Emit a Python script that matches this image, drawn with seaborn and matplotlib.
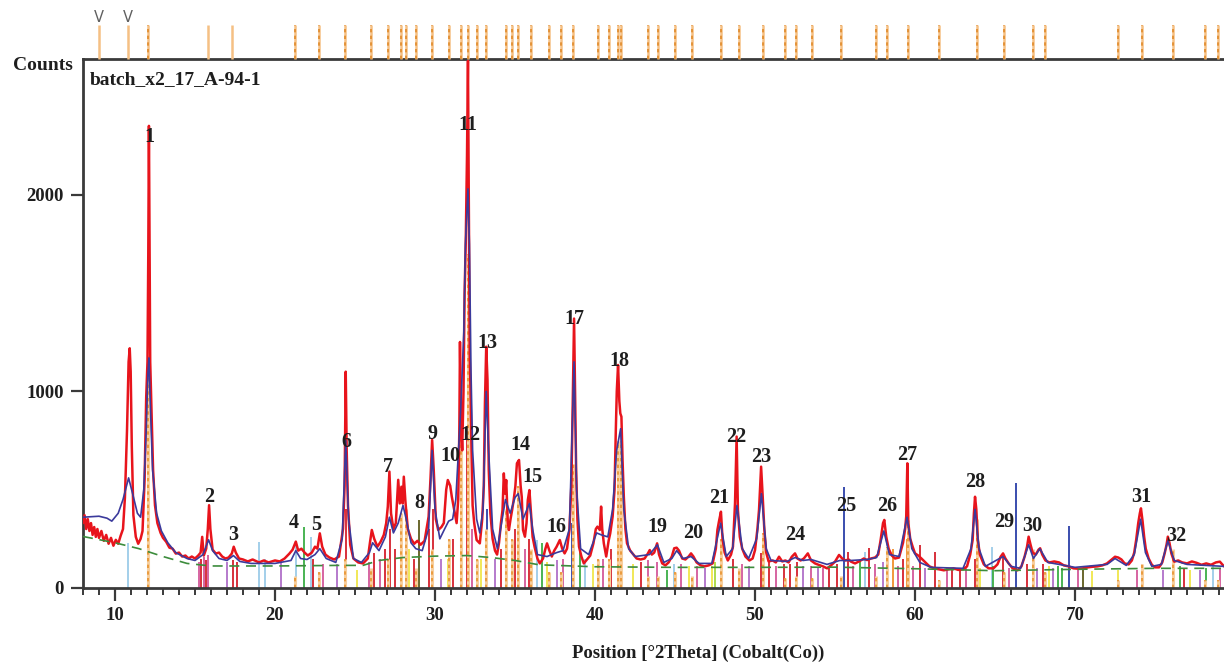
import matplotlib
matplotlib.use("Agg")
import matplotlib.pyplot as plt
from matplotlib.ticker import MultipleLocator
import seaborn as sns

sns.set_theme(style="white")
plt.rcParams["font.family"] = ["Liberation Serif", "DejaVu Serif"]
plt.rcParams["font.weight"] = "bold"

# ---------------- data ----------------
obs_2theta = [8.00, 8.10, 8.20, 8.30, 8.40, 8.50, 8.60, 8.70, 8.80, 8.90, 9.00, 9.15, 9.30, 9.45, 9.60, 9.75,
              9.90, 10.05, 10.20, 10.35, 10.50, 10.62, 10.75, 10.85, 10.92, 10.98, 11.05, 11.15, 11.30, 11.45,
              11.60, 11.72, 11.85, 11.95, 12.03, 12.08, 12.12, 12.16, 12.20, 12.28, 12.38, 12.50, 12.65, 12.85,
              13.00, 13.20, 13.40, 13.60, 13.80, 14.00, 14.20, 14.40, 14.60, 14.80, 15.00, 15.20, 15.35, 15.45,
              15.55, 15.70, 15.80, 15.88, 15.96, 16.10, 16.30, 16.50, 16.70, 16.90, 17.10, 17.30, 17.42, 17.55,
              17.75, 18.00, 18.30, 18.60, 19.00, 19.30, 19.60, 20.00, 20.30, 20.60, 20.90, 21.10, 21.30, 21.45,
              21.65, 21.85, 22.05, 22.30, 22.50, 22.65, 22.80, 22.95, 23.15, 23.40, 23.70, 24.00, 24.25, 24.35,
              24.42, 24.48, 24.56, 24.70, 24.90, 25.20, 25.50, 25.80, 25.95, 26.05, 26.20, 26.40, 26.60, 26.80,
              26.95, 27.05, 27.15, 27.25, 27.40, 27.55, 27.70, 27.80, 27.90, 27.98, 28.05, 28.15, 28.30, 28.50,
              28.70, 28.90, 29.10, 29.35, 29.60, 29.72, 29.82, 29.92, 30.05, 30.20, 30.40, 30.55, 30.70, 30.80,
              30.95, 31.05, 31.20, 31.35, 31.45, 31.52, 31.56, 31.62, 31.70, 31.78, 31.85, 31.92, 32.00, 32.06,
              32.12, 32.17, 32.22, 32.28, 32.35, 32.45, 32.60, 32.80, 32.95, 33.05, 33.12, 33.20, 33.28, 33.36,
              33.46, 33.60, 33.75, 33.88, 34.00, 34.12, 34.22, 34.30, 34.38, 34.45, 34.55, 34.62, 34.72, 34.82,
              34.92, 35.02, 35.12, 35.25, 35.35, 35.42, 35.50, 35.62, 35.72, 35.80, 35.90, 36.00, 36.10, 36.22,
              36.40, 36.55, 36.75, 36.90, 37.00, 37.15, 37.30, 37.45, 37.60, 37.80, 37.95, 38.10, 38.25, 38.40,
              38.52, 38.60, 38.69, 38.75, 38.82, 38.90, 39.00, 39.15, 39.30, 39.50, 39.70, 39.90, 40.05, 40.15,
              40.30, 40.38, 40.45, 40.55, 40.70, 40.85, 40.95, 41.10, 41.22, 41.30, 41.36, 41.44, 41.52, 41.58,
              41.65, 41.72, 41.80, 41.90, 42.00, 42.20, 42.40, 42.60, 42.85, 43.10, 43.30, 43.42, 43.55, 43.70,
              43.88, 44.00, 44.20, 44.40, 44.60, 44.80, 44.95, 45.10, 45.25, 45.45, 45.65, 45.85, 46.00, 46.15,
              46.35, 46.60, 46.85, 47.10, 47.35, 47.55, 47.65, 47.75, 47.87, 47.97, 48.10, 48.30, 48.50, 48.62,
              48.75, 48.85, 48.93, 49.05, 49.20, 49.40, 49.65, 49.85, 50.00, 50.15, 50.25, 50.38, 50.48, 50.58,
              50.70, 50.85, 51.10, 51.30, 51.50, 51.70, 51.90, 52.10, 52.30, 52.50, 52.65, 52.85, 53.05, 53.30,
              53.50, 53.75, 54.00, 54.25, 54.50, 54.75, 55.00, 55.25, 55.45, 55.65, 55.85, 56.00, 56.25, 56.50,
              56.80, 57.00, 57.25, 57.50, 57.70, 57.85, 58.00, 58.08, 58.20, 58.35, 58.55, 58.75, 59.00, 59.25,
              59.38, 59.45, 59.52, 59.58, 59.70, 59.85, 60.00, 60.20, 60.40, 60.65, 60.90, 61.20, 61.50, 61.80,
              62.10, 62.40, 62.70, 63.00, 63.25, 63.45, 63.60, 63.68, 63.75, 63.83, 63.92, 64.05, 64.30, 64.60,
              64.90, 65.15, 65.35, 65.50, 65.65, 65.85, 66.10, 66.40, 66.65, 66.85, 67.00, 67.10, 67.22, 67.35,
              67.55, 67.72, 67.82, 67.95, 68.15, 68.40, 68.70, 69.00, 69.30, 69.60, 69.90, 70.20, 70.50, 70.80,
              71.10, 71.40, 71.70, 72.00, 72.30, 72.50, 72.70, 72.90, 73.10, 73.35, 73.55, 73.70, 73.82, 73.95,
              74.05, 74.12, 74.22, 74.32, 74.42, 74.60, 74.80, 75.00, 75.25, 75.45, 75.60, 75.72, 75.80, 75.90,
              76.02, 76.20, 76.45, 76.70, 77.00, 77.30, 77.60, 77.90, 78.20, 78.50, 78.80, 79.05, 79.31]
obs_counts = [330, 370, 300, 350, 290, 330, 270, 310, 260, 300, 255, 290, 240, 270, 225, 255,
              215, 245, 225, 265, 300, 460, 800, 1150, 1219, 1100, 720, 370, 260, 225,
              250, 290, 550, 970, 1150, 1700, 2350, 1750, 1150, 900, 600, 420, 330, 280,
              255, 235, 205, 200, 175, 180, 160, 165, 150, 160, 150, 165, 180, 260,
              165, 200, 300, 421, 300, 195, 175, 180, 160, 150, 155, 175, 210, 180,
              150, 145, 135, 145, 130, 140, 130, 140, 135, 150, 175, 195, 236, 190,
              200, 180, 165, 180, 210, 200, 278, 210, 170, 155, 145, 160, 300, 520,
              1100, 700, 420, 220, 150, 130, 125, 150, 240, 295, 250, 210, 235, 270,
              330, 414, 592, 380, 300, 330, 550, 430, 515, 430, 566, 440, 300, 250,
              225, 240, 220, 240, 363, 560, 753, 600, 350, 295, 310, 330, 500, 549,
              520, 464, 397, 330, 450, 803, 1251, 850, 700, 1000, 1500, 1754, 2200, 2680,
              1900, 1170, 1000, 700, 420, 330, 244, 227, 350, 520, 939, 1227, 1058, 600,
              380, 250, 190, 170, 230, 330, 397, 583, 480, 549, 330, 295, 350, 397,
              450, 515, 634, 651, 520, 464, 295, 261, 330, 447, 498, 380, 260, 210,
              150, 125, 150, 200, 227, 190, 160, 190, 210, 244, 200, 176, 200, 295,
              520, 900, 1370, 1000, 600, 350, 210, 160, 125, 145, 165, 227, 300, 312,
              295, 414, 300, 227, 160, 240, 278, 363, 500, 803, 1000, 1134, 950, 888,
              871, 650, 464, 300, 227, 190, 170, 150, 145, 150, 175, 193, 170, 180,
              227, 170, 125, 115, 130, 160, 202, 205, 190, 150, 145, 160, 176, 160,
              130, 115, 110, 115, 125, 200, 295, 340, 388, 250, 180, 140, 170, 210,
              430, 770, 397, 260, 200, 160, 140, 150, 193, 300, 397, 617, 464, 300,
              180, 135, 140, 130, 159, 135, 140, 130, 159, 176, 150, 140, 150, 176,
              140, 125, 117, 110, 100, 115, 134, 168, 150, 140, 145, 134, 125, 135,
              150, 142, 150, 155, 170, 244, 330, 346, 261, 200, 165, 150, 155, 230,
              300, 363, 634, 330, 250, 210, 176, 165, 150, 130, 110, 100, 95, 90,
              95, 100, 92, 95, 110, 170, 244, 380, 464, 400, 250, 170, 120, 100,
              100, 120, 159, 176, 150, 125, 100, 90, 110, 160, 210, 261, 220, 180,
              170, 195, 202, 170, 140, 130, 135, 130, 115, 110, 100, 98, 100, 105,
              108, 110, 115, 125, 145, 159, 155, 145, 125, 120, 140, 180, 244, 330,
              380, 405, 340, 260, 200, 150, 118, 105, 105, 130, 176, 220, 261, 230,
              176, 134, 140, 130, 125, 135, 128, 118, 125, 118, 130, 134, 110]

calc_2theta = [8.0, 9.0, 9.5, 9.8, 10.2, 10.5, 10.85, 11.1, 11.4, 11.6, 11.8, 11.95, 12.05, 12.12, 12.2,
               12.35, 12.6, 12.9, 13.3, 13.8, 14.5, 15.0, 15.5, 15.85, 16.1, 16.5, 17.0, 17.4, 17.8, 18.5,
               20.0, 21.0, 21.3, 21.6, 22.0, 22.5, 22.8, 23.2, 23.8, 24.2, 24.42, 24.6, 24.9, 25.4, 25.9,
               26.1, 26.5, 26.9, 27.15, 27.4, 27.7, 28.0, 28.2, 28.5, 28.8, 29.2, 29.6, 29.82, 30.0, 30.3,
               30.6, 30.85, 31.1, 31.3, 31.6, 31.8, 31.9, 32.06, 32.15, 32.25, 32.35, 32.6, 32.8, 33.0,
               33.2, 33.35, 33.6, 33.9, 34.2, 34.4, 34.7, 35.0, 35.2, 35.5, 35.9, 36.1, 36.4, 37.0, 37.6,
               38.0, 38.4, 38.69, 38.85, 39.1, 39.6, 40.1, 40.4, 40.8, 41.1, 41.35, 41.6, 41.8, 42.1, 42.5,
               43.4, 43.9, 44.3, 44.8, 45.1, 45.5, 46.0, 46.5, 47.3, 47.85, 48.2, 48.6, 48.87, 49.2, 49.6,
               50.1, 50.4, 50.7, 51.0, 52.0, 52.5, 53.0, 53.5, 54.5, 55.3, 56.0, 57.0, 57.6, 58.05, 58.4,
               59.0, 59.5, 59.8, 60.3, 61.0, 63.0, 63.5, 63.75, 64.0, 64.4, 65.5, 66.0, 66.6, 67.1, 67.4,
               67.8, 68.3, 69.0, 70.0, 72.0, 72.5, 73.2, 73.7, 74.1, 74.4, 74.8, 75.4, 75.8, 76.2, 77.0, 79.31]
calc_counts = [360, 365, 355, 340, 380, 450, 560, 480, 380, 360, 500, 800, 1080, 1170, 950,
               600, 380, 290, 230, 180, 150, 140, 170, 245, 190, 150, 140, 165, 135, 125,
               125, 140, 190, 150, 145, 170, 200, 150, 130, 250, 750, 350, 150, 130, 180,
               230, 190, 260, 360, 280, 330, 420, 350, 230, 200, 190, 300, 700, 400, 250,
               300, 340, 350, 450, 900, 1300, 1750, 2030, 1750, 1100, 700, 350, 280, 400,
               1000, 700, 300, 200, 350, 450, 380, 460, 480, 350, 430, 300, 170, 160, 180,
               190, 300, 1150, 500, 200, 170, 280, 270, 260, 400, 700, 810, 400, 200, 160,
               170, 220, 130, 150, 190, 150, 160, 125, 125, 330, 160, 200, 420, 200, 150,
               250, 480, 200, 140, 135, 155, 140, 145, 120, 140, 140, 145, 155, 290, 170,
               160, 360, 200, 130, 105, 100, 200, 400, 200, 110, 160, 110, 100, 220, 150,
               200, 130, 120, 105, 120, 150, 115, 170, 350, 180, 110, 120, 240, 140, 120, 110]

bg_2theta = [8.0, 10.0, 11.5, 13.0, 14.5, 16.0, 20.0, 24.0, 25.5, 26.5, 28.0, 30.0, 32.0, 33.5, 35.0,
             36.5, 40.0, 45.0, 50.0, 55.0, 60.0, 65.0, 70.0, 75.0, 79.31]
bg_counts = [262, 230, 200, 160, 125, 112, 112, 115, 115, 140, 155, 162, 165, 155, 140,
             118, 108, 105, 105, 106, 98, 88, 95, 100, 100]

# reference-pattern sticks at the bottom: position, height, phase colour
stick_pos = [10.81, 15.25, 15.40, 15.55, 15.68, 15.80, 17.00, 17.40, 17.60, 19.00, 19.40, 20.40, 21.30,
             21.80, 22.25, 22.40, 23.00, 23.90, 24.45, 25.10, 25.90, 26.20, 26.55, 26.90, 27.20, 27.50,
             27.85, 28.40, 28.70, 29.00, 29.60, 29.90, 30.40, 30.80, 31.10, 31.60, 32.00, 32.30, 32.90,
             33.27, 33.75, 34.10, 34.50, 35.00, 35.60, 35.90, 36.35, 36.70, 37.00, 37.60, 38.00, 38.54,
             39.06, 39.40, 39.90, 40.50, 41.00, 41.45, 42.40, 42.90, 43.30, 43.85, 44.50, 44.95, 45.40,
             45.90, 46.35, 46.90, 47.30, 47.50, 47.90, 48.60, 49.20, 49.60, 50.40, 50.90, 51.30, 51.80,
             52.20, 52.60, 53.00, 53.50, 53.96, 54.27, 54.60, 55.10, 55.55, 55.83, 56.10, 56.56, 56.90,
             57.10, 57.50, 58.00, 58.33, 58.60, 58.95, 59.27, 59.52, 59.90, 60.30, 60.60, 61.25, 62.00,
             62.30, 62.80, 63.20, 63.75, 64.06, 64.83, 64.90, 65.50, 65.90, 66.31, 66.98, 67.60, 68.00,
             68.40, 68.60, 68.96, 69.20, 69.64, 70.20, 70.50, 71.04, 72.70, 73.85, 74.27, 75.52, 76.56,
             76.80, 77.20, 77.80, 78.20, 78.60, 79.06]
stick_height = [227, 130, 150, 160, 140, 170, 130, 140, 130, 235, 150, 140, 230,
                312, 261, 150, 120, 120, 400, 92, 130, 180, 150, 200, 300, 200,
                250, 200, 150, 346, 300, 400, 150, 150, 250, 600, 800, 300, 150,
                400, 150, 200, 250, 300, 200, 250, 244, 227, 130, 140, 150, 329,
                244, 150, 120, 150, 200, 190, 120, 130, 140, 130, 90, 120, 120,
                110, 110, 100, 110, 130, 200, 150, 120, 110, 180, 130, 110, 120,
                120, 130, 110, 110, 100, 100, 110, 120, 515, 185, 110, 140, 185,
                202, 120, 130, 150, 200, 110, 150, 250, 110, 219, 100, 185, 100,
                100, 100, 100, 150, 100, 210, 110, 160, 100, 532, 120, 100, 120,
                110, 100, 110, 100, 315, 90, 90, 85, 90, 90, 110, 90, 110,
                100, 90, 90, 100, 110, 100]
stick_phase = ["lb", "pk", "cr", "pk", "cr", "pk", "vi", "cr", "cr", "lb", "lb", "vi", "lb",
               "gr", "lb", "cr", "pk", "vi", "cr", "ye", "pk", "cr", "pk", "cr", "cr", "cr",
               "pk", "ye", "cr", "ol", "cr", "cr", "vi", "ye", "cr", "cr", "cr", "pk", "ye",
               "bl", "vi", "cr", "pk", "cr", "pk", "cr", "lb", "gr", "ye", "vi", "pk", "bl",
               "gr", "lb", "ye", "pk", "cr", "gr", "ye", "cr", "pk", "pk", "gr", "lb", "pk",
               "ye", "pk", "vi", "ye", "lg", "cr", "cr", "pk", "vi", "cr", "cr", "pk", "cr",
               "cr", "cr", "vi", "pk", "vi", "pk", "cr", "cr", "bl", "cr", "pk", "gr", "lb",
               "cr", "pk", "vi", "gr", "or", "pk", "cr", "or", "pk", "cr", "vi", "cr", "pk",
               "cr", "cr", "pk", "cr", "ye", "lb", "gr", "cr", "pk", "bl", "cr", "vi", "cr",
               "ye", "vi", "gr", "gr", "bl", "pk", "ol", "ye", "ye", "pk", "cr", "vi", "gr",
               "cr", "ye", "vi", "gr", "lb", "pk"]

# main-phase reference positions (orange strip above the frame) and their stick heights
ref_pos = [9.00, 10.81, 12.06, 15.81, 17.31, 21.25, 22.75, 24.38, 26.00, 27.06, 27.88, 28.19, 28.81,
           29.81, 30.88, 31.63, 32.06, 32.63, 33.19, 34.44, 34.81, 35.19, 36.00, 37.13, 37.88, 38.63,
           40.19, 40.88, 41.44, 41.63, 43.31, 43.94, 45.00, 46.06, 47.88, 49.00, 50.50, 51.88, 52.56,
           53.56, 55.38, 57.56, 58.25, 59.56, 61.50, 63.88, 65.56, 67.38, 68.13, 72.69, 74.19, 76.13,
           78.13, 78.94]
ref_height = [0, 0, 1180, 0, 0, 60, 80, 150, 100, 150, 380, 400, 100,
              200, 250, 770, 1700, 150, 300, 400, 250, 520, 200, 80, 80, 630,
              150, 150, 750, 750, 60, 60, 80, 60, 250, 100, 280, 50, 60,
              50, 60, 60, 210, 345, 40, 350, 80, 200, 80, 40, 120, 200,
              40, 40]
ref_dashed = [False, False, True, False, False] + [True] * 49
marked_pos = [9.00, 10.81]

peak_labels = [str(i) for i in range(1, 33)]
label_2theta = [12.12, 15.88, 17.38, 21.17, 22.58, 24.46, 27.06, 29.04, 29.83, 30.98, 32.04, 32.19,
                33.29, 35.31, 36.10, 37.60, 38.71, 41.52, 43.89, 46.14, 47.77, 48.85, 50.41, 52.50,
                55.69, 58.23, 59.54, 63.75, 65.58, 67.33, 74.16, 76.31]
label_counts = [2293, 463, 269, 329, 320, 744, 617, 430, 781, 671, 2354, 778,
                1244, 727, 566, 308, 1366, 1156, 312, 281, 456, 770, 668, 270,
                417, 417, 676, 541, 337, 317, 461, 264]

phase_colors = {"lb": "#9ccbe8", "pk": "#d3589a", "cr": "#d4202c", "vi": "#b070c8", "gr": "#3cae45",
                "ye": "#f0e64a", "ol": "#5e5c1c", "bl": "#2b3fa8", "or": "#f0902c", "lg": "#a8d840"}

# ---------------- figure ----------------
W, H = 1224, 664
fig = plt.figure(figsize=(W / 100, H / 100), dpi=100)
ax = fig.add_axes([83 / W, 76 / H, (W - 83) / W, (588 - 59) / H])

for code, col in phase_colors.items():
    xs = [p for p, c in zip(stick_pos, stick_phase) if c == code]
    hs = [h for h, c in zip(stick_height, stick_phase) if c == code]
    if xs:
        ax.vlines(xs, 0, hs, colors=col, lw=1.3, zorder=1)

# orange main-phase sticks inside the plot
in_x = [p for p, h in zip(ref_pos, ref_height) if h > 0]
in_h = [h for h in ref_height if h > 0]
ax.vlines(in_x, 0, in_h, colors="#f7cf9e", lw=2.2, zorder=1.5)
ax.vlines(in_x, 0, in_h, colors="#e8922e", lw=1.2, linestyles=(0, (2, 2)), zorder=1.6)

sns.lineplot(x=obs_2theta, y=obs_counts, ax=ax, color="#e8141c", lw=1.8, estimator=None, zorder=3)
sns.lineplot(x=calc_2theta, y=calc_counts, ax=ax, color="#3b3a9c", lw=1.2, estimator=None, zorder=4)
sns.lineplot(x=bg_2theta, y=bg_counts, ax=ax, color="#3c8c3c", lw=1.2, estimator=None, zorder=5,
             dashes=False, linestyle=(0, (6, 4)))

# orange strip above the frame
trans = ax.get_xaxis_transform()
ax.vlines(ref_pos, 1.0, 1.064, transform=trans, clip_on=False, colors="#f5c084", lw=1.8, zorder=6)
dx = [p for p, d in zip(ref_pos, ref_dashed) if d]
ax.vlines(dx, 1.0, 1.064, transform=trans, clip_on=False, colors="#e08a2a", lw=1.2,
          linestyles=(0, (2, 2)), zorder=6)
for p in marked_pos:
    ax.text(p, 1.064, "V", transform=trans, ha="center", va="bottom", fontsize=10.5,
            color="#606060", family="DejaVu Sans", fontweight="normal")

for t, x, y in zip(peak_labels, label_2theta, label_counts):
    ax.text(x, y, t, ha="center", va="center", fontsize=14.5, color="#1e1e1e", zorder=7)

ax.set_xlim(8.0, 79.31)
ax.set_ylim(0, 2690)
ax.set_xticks([10, 20, 30, 40, 50, 60, 70])
ax.xaxis.set_minor_locator(MultipleLocator(1))
ax.set_yticks([0, 1000, 2000])
ax.tick_params(axis="both", which="major", direction="out", length=9, width=1.6, color="#3a3a3a",
               labelsize=13.5, bottom=True, left=True, pad=5, labelcolor="#1e1e1e")
ax.tick_params(axis="x", which="minor", direction="out", length=5, width=1.4, color="#3a3a3a", bottom=True)
ax.set_xlabel("")
ax.set_ylabel("")
for s in ["left", "top", "bottom"]:
    ax.spines[s].set_color("#3a3a3a")
    ax.spines[s].set_linewidth(2)
ax.spines["right"].set_visible(False)

fig.text(13 / W, 1 - 66 / H, "Counts", ha="left", va="center", fontsize=14, color="#1e1e1e")
fig.text(90 / W, 1 - 80 / H, "batch_x2_17_A-94-1", ha="left", va="center", fontsize=14, color="#1e1e1e")
fig.text(698 / W, 1 - 653 / H, "Position [°2Theta] (Cobalt(Co))", ha="center", va="center",
         fontsize=13.5, color="#1e1e1e")

fig.savefig("out.png", dpi=100)
